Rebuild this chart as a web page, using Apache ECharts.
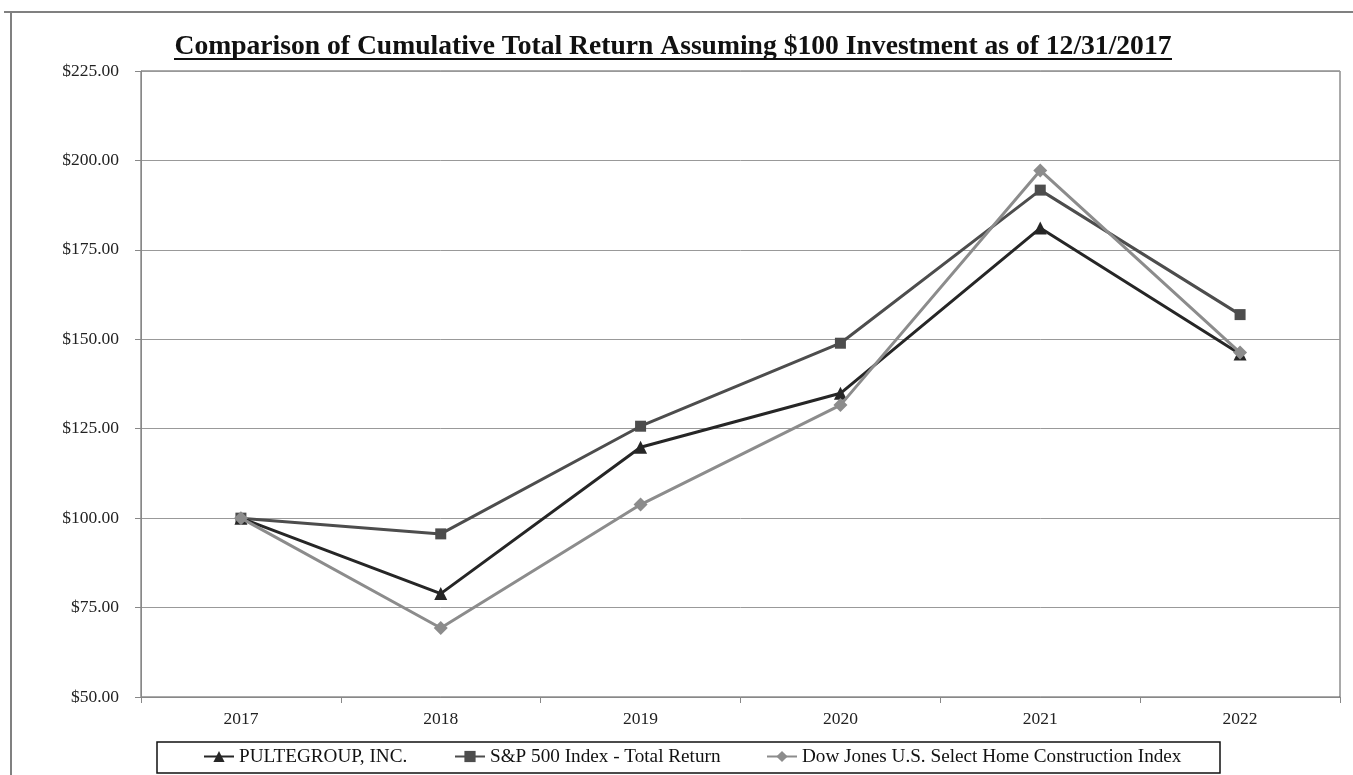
<!DOCTYPE html>
<html>
<head>
<meta charset="utf-8">
<script src="https://cdn.jsdelivr.net/npm/echarts@6/dist/echarts.min.js"></script>
<style>html,body{margin:0;padding:0;background:#fff;}#c{width:1353px;height:775px;}</style>
</head>
<body>
<div id="c"></div>
<script>
const categories = ['2017', '2018', '2019', '2020', '2021', '2022'];
const pulte = [100.00, 78.9, 119.8, 134.9, 181.1, 145.9];
const sp500 = [100.00, 95.6, 125.7, 148.9, 191.7, 156.9];
const dowJones = [100.00, 69.3, 103.8, 131.6, 197.2, 146.3];
const seriesNames = ['PULTEGROUP, INC.', 'S&P 500 Index - Total Return', 'Dow Jones U.S. Select Home Construction Index'];
const titleText = 'Comparison of Cumulative Total Return Assuming $100 Investment as of 12/31/2017';

const serif = '"Liberation Serif", "Times New Roman", serif';
const legendText = { fontFamily: serif, fontSize: 19.2, color: '#111' };
function oneLegend(name, left) {
  return { data: [name], left: left, top: 747, padding: 0, itemWidth: 30, itemHeight: 14, itemGap: 0, textStyle: legendText };
}
const chart = echarts.init(document.getElementById('c'));
chart.setOption({
  backgroundColor: '#ffffff',
  animation: false,
  title: {
    text: titleText,
    left: 668, top: 28, textAlign: 'center',
    textStyle: { fontFamily: serif, fontWeight: 'bold', fontSize: 27.6, color: '#111' }
  },
  graphic: [
    { type: 'line', shape: { x1: 174, y1: 59, x2: 1172, y2: 59 }, style: { stroke: '#111', lineWidth: 2 } },
    { type: 'line', shape: { x1: 4, y1: 12, x2: 1353, y2: 12 }, style: { stroke: '#808080', lineWidth: 2 } },
    { type: 'line', shape: { x1: 11, y1: 12, x2: 11, y2: 775 }, style: { stroke: '#808080', lineWidth: 2 } },
    { type: 'rect', shape: { x: 157, y: 742, width: 1063, height: 31 }, style: { fill: 'none', stroke: '#111', lineWidth: 1.5 } }
  ],
  grid: { left: 141, right: 13, top: 71, bottom: 78, show: true, borderColor: '#555', borderWidth: 1 },
  xAxis: {
    type: 'category', data: categories, boundaryGap: true,
    axisLine: { lineStyle: { color: '#888', width: 1 } },
    axisTick: { show: true, inside: false, length: 6, lineStyle: { color: '#888' } },
    axisLabel: { margin: 13, fontFamily: serif, fontSize: 17.5, color: '#222' },
    splitLine: { show: false }
  },
  yAxis: {
    type: 'value', min: 50, max: 225, interval: 25,
    axisLine: { show: true, lineStyle: { color: '#888', width: 1 } },
    axisTick: { show: true, length: 6, lineStyle: { color: '#888' } },
    axisLabel: { margin: 22, fontFamily: serif, fontSize: 17.5, color: '#222', formatter: v => '$' + v.toFixed(2) },
    splitLine: { show: true, lineStyle: { color: '#999', width: 1 } }
  },
  legend: [
    oneLegend(seriesNames[0], 203),
    oneLegend(seriesNames[1], 454),
    oneLegend(seriesNames[2], 766)
  ],
  series: [
    { name: seriesNames[0], type: 'line', data: pulte, symbol: 'triangle', symbolSize: 13,
      lineStyle: { color: '#262626', width: 3 }, itemStyle: { color: '#262626' }, z: 4 },
    { name: seriesNames[1], type: 'line', data: sp500, symbol: 'rect', symbolSize: 11,
      lineStyle: { color: '#4d4d4d', width: 3 }, itemStyle: { color: '#4d4d4d' }, z: 3 },
    { name: seriesNames[2], type: 'line', data: dowJones, symbol: 'diamond', symbolSize: 14,
      lineStyle: { color: '#8c8c8c', width: 3 }, itemStyle: { color: '#8c8c8c' }, z: 5 }
  ]
});
</script>
</body>
</html>
